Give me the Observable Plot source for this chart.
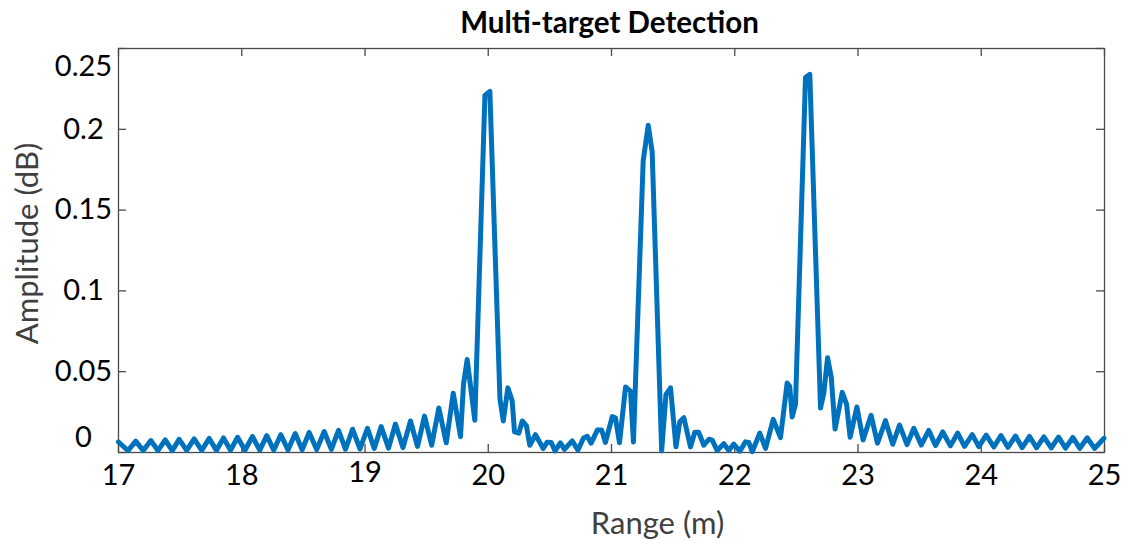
<!DOCTYPE html>
<html>
<head>
<meta charset="utf-8">
<script src="https://cdn.jsdelivr.net/npm/d3@7"></script>
<script src="https://cdn.jsdelivr.net/npm/@observablehq/plot@0.6"></script>
<style>
  html, body { margin: 0; padding: 0; background: #fff; }
  #chart svg { display: block; }
</style>
</head>
<body>
<div id="chart"></div>
<script>
const title = "Multi-target Detection";
const xLabel = "Range (m)";
const yLabel = "Amplitude (dB)";

const range = [
  17.000, 17.077, 17.140, 17.201, 17.262, 17.320, 17.379, 17.436, 17.492, 17.553,
  17.614, 17.675, 17.736, 17.794, 17.852, 17.909, 17.966, 18.026, 18.087, 18.146,
  18.203, 18.260, 18.317, 18.375, 18.434, 18.490, 18.547, 18.608, 18.669, 18.727,
  18.785, 18.842, 18.899, 18.959, 19.020, 19.075, 19.131, 19.191, 19.247, 19.308,
  19.369, 19.426, 19.483, 19.541, 19.599, 19.659, 19.716, 19.775, 19.799, 19.829,
  19.891, 19.973, 20.013, 20.095, 20.122, 20.159, 20.194, 20.213, 20.248, 20.276,
  20.310, 20.337, 20.383, 20.446, 20.478, 20.511, 20.542, 20.585, 20.619, 20.681,
  20.728, 20.773, 20.803, 20.835, 20.886, 20.920, 20.951, 21.006, 21.032, 21.065,
  21.114, 21.154, 21.178, 21.257, 21.298, 21.330, 21.407, 21.442, 21.479, 21.523,
  21.554, 21.587, 21.641, 21.676, 21.708, 21.749, 21.790, 21.817, 21.858, 21.911,
  21.952, 21.992, 22.041, 22.087, 22.114, 22.142, 22.203, 22.250, 22.312, 22.371,
  22.425, 22.446, 22.466, 22.493, 22.574, 22.609, 22.696, 22.723, 22.753, 22.783,
  22.814, 22.872, 22.907, 22.936, 22.991, 23.041, 23.106, 23.158, 23.223, 23.282,
  23.337, 23.398, 23.453, 23.513, 23.574, 23.629, 23.688, 23.750, 23.809, 23.864,
  23.927, 23.980, 24.040, 24.102, 24.160, 24.216, 24.278, 24.332, 24.392, 24.448,
  24.508, 24.568, 24.627, 24.684, 24.743, 24.800, 24.860, 24.919, 24.996
];

const amplitude = [
  0.0065, 0.0012, 0.0070, 0.0012, 0.0074, 0.0012, 0.0078, 0.0012, 0.0081, 0.0013,
  0.0084, 0.0013, 0.0087, 0.0013, 0.0090, 0.0014, 0.0094, 0.0014, 0.0099, 0.0015,
  0.0104, 0.0015, 0.0110, 0.0016, 0.0117, 0.0017, 0.0124, 0.0018, 0.0130, 0.0019,
  0.0137, 0.0020, 0.0144, 0.0022, 0.0150, 0.0025, 0.0160, 0.0027, 0.0176, 0.0030,
  0.0195, 0.0038, 0.0225, 0.0045, 0.0275, 0.0060, 0.0367, 0.0098, 0.0420, 0.0575,
  0.0200, 0.2210, 0.2235, 0.0330, 0.0195, 0.0400, 0.0320, 0.0128, 0.0120, 0.0195,
  0.0165, 0.0045, 0.0110, 0.0025, 0.0064, 0.0062, 0.0010, 0.0060, 0.0020, 0.0072,
  0.0015, 0.0090, 0.0100, 0.0058, 0.0140, 0.0140, 0.0062, 0.0222, 0.0215, 0.0060,
  0.0405, 0.0380, 0.0065, 0.1805, 0.2025, 0.1860, 0.0010, 0.0360, 0.0400, 0.0035,
  0.0190, 0.0215, 0.0035, 0.0125, 0.0125, 0.0045, 0.0082, 0.0076, 0.0012, 0.0055,
  0.0012, 0.0052, 0.0008, 0.0066, 0.0062, 0.0005, 0.0120, 0.0025, 0.0205, 0.0092,
  0.0430, 0.0410, 0.0220, 0.0300, 0.2320, 0.2340, 0.0275, 0.0370, 0.0586, 0.0466,
  0.0145, 0.0372, 0.0300, 0.0095, 0.0282, 0.0078, 0.0230, 0.0058, 0.0197, 0.0051,
  0.0170, 0.0049, 0.0150, 0.0046, 0.0137, 0.0043, 0.0127, 0.0041, 0.0120, 0.0038,
  0.0111, 0.0036, 0.0107, 0.0034, 0.0105, 0.0032, 0.0102, 0.0030, 0.0099, 0.0029,
  0.0097, 0.0028, 0.0095, 0.0027, 0.0093, 0.0026, 0.0091, 0.0025, 0.0088
];

const xTicks = [17, 18, 19, 20, 21, 22, 23, 24, 25];
const yTicks = [0, 0.05, 0.1, 0.15, 0.2, 0.25];
const yTickLabels = ["0", "0.05", "0.1", "0.15", "0.2", "0.25"];

const data = range.map((r, i) => ({range: r, amplitude: amplitude[i]}));

const W = 1128, H = 548;
const mL = 118, mR = 24, mT = 48, mB = 96;
const frameW = W - mL - mR, frameH = H - mT - mB;
const tickLen = 8;
const axisColor = "#4a4a4a";
const font = "Lato, 'Open Sans', sans-serif";
const tickFont = 29;
const labelFont = 31;

const yLab = yTicks.map((v, i) => ({v, label: yTickLabels[i]}));

const txt = {textAnchor: "middle", lineAnchor: "middle"};

const chart = Plot.plot({
  width: W,
  height: H,
  marginLeft: mL,
  marginRight: mR,
  marginTop: mT,
  marginBottom: mB,
  style: {fontFamily: font, background: "#fff", overflow: "visible"},
  x: {domain: [17, 25], axis: null},
  y: {domain: [0, 0.25], axis: null},
  marks: [
    Plot.frame({stroke: axisColor, strokeWidth: 1.3}),
    // inward tick marks (bottom, top, left, right)
    Plot.tickX(xTicks, {x: d => d, stroke: axisColor, strokeWidth: 1.3, insetTop: frameH - tickLen}),
    Plot.tickX(xTicks, {x: d => d, stroke: axisColor, strokeWidth: 1.3, insetBottom: frameH - tickLen}),
    Plot.tickY(yTicks, {y: d => d, stroke: axisColor, strokeWidth: 1.3, insetRight: frameW - tickLen}),
    Plot.tickY(yTicks, {y: d => d, stroke: axisColor, strokeWidth: 1.3, insetLeft: frameW - tickLen}),
    // series
    Plot.line(data, {x: "range", y: "amplitude", stroke: "#0072BD", strokeWidth: 5,
      strokeLinejoin: "round", strokeLinecap: "round"}),
    // x tick labels
    Plot.text(xTicks.filter(d => d !== 19), {...txt, x: d => d, frameAnchor: "bottom", dy: 23,
      text: d => String(d), fontSize: tickFont, fill: "#000"}),
    Plot.text(xTicks.filter(d => d === 19), {...txt, x: d => d, frameAnchor: "bottom", dy: 20,
      text: d => String(d), fontSize: tickFont, fill: "#000"}),
    // y tick labels
    Plot.text(yLab.filter(d => d.v > 0 && d.v < 0.25), {...txt, y: "v", text: "label", frameAnchor: "left",
      dx: -35, fontSize: tickFont, fill: "#000"}),
    Plot.text(yLab.filter(d => d.v === 0.25), {...txt, y: "v", text: "label", frameAnchor: "left",
      dx: -35, dy: 18, fontSize: tickFont, fill: "#000"}),
    Plot.text(yLab.filter(d => d.v === 0), {...txt, y: "v", text: "label", frameAnchor: "left",
      dx: -35, dy: -15, fontSize: tickFont, fill: "#000"}),
    // axis titles
    Plot.text([yLabel], {...txt, frameAnchor: "left", dx: -90, dy: -7, rotate: -90, text: d => d,
      fontSize: labelFont, fill: "#404040"}),
    Plot.text([xLabel], {...txt, frameAnchor: "bottom", dx: 46, dy: 72, text: d => d,
      fontSize: labelFont, fill: "#404040"}),
    // title
    Plot.text([title], {...txt, frameAnchor: "top", dx: -2, dy: -25, text: d => d,
      fontSize: 29.5, fontWeight: "bold", fill: "#000"})
  ]
});

document.getElementById("chart").appendChild(chart);
</script>
</body>
</html>
